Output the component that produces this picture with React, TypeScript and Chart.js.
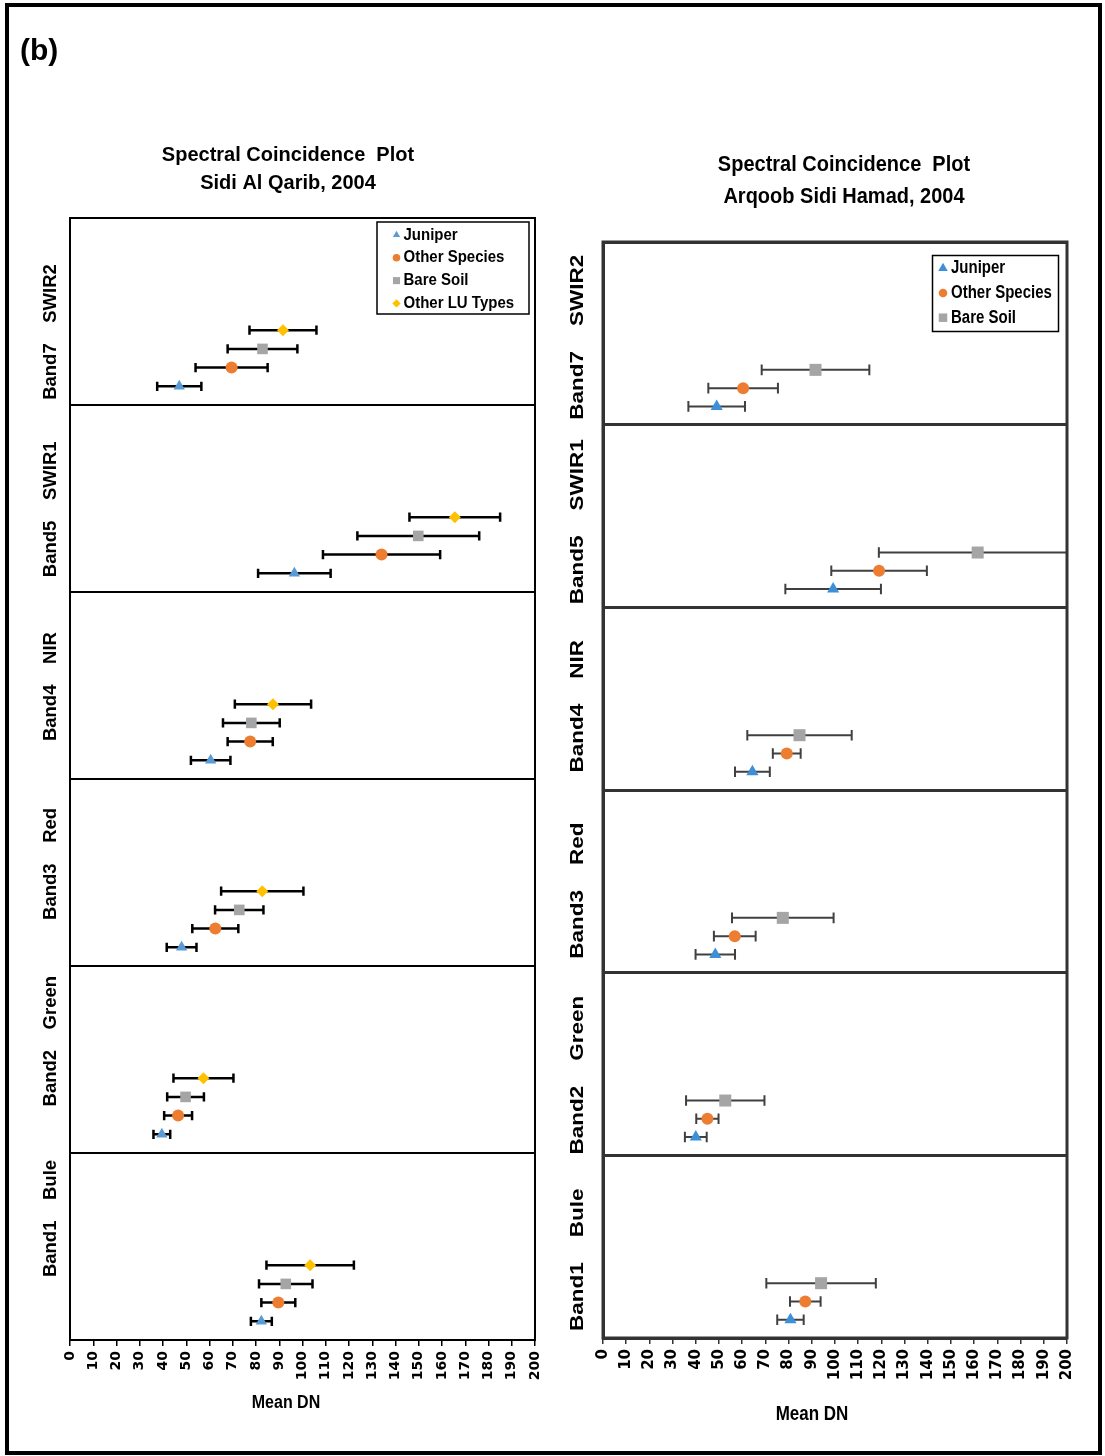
import { useEffect, useRef } from 'react';
import { Chart, registerables } from 'chart.js';
import { drawPoint } from 'chart.js/helpers';

Chart.register(...registerables);

// Bands on the y axis, listed bottom to top; each band owns 10 units of the axis
const bandNames = ['Band1', 'Band2', 'Band3', 'Band4', 'Band5', 'Band7'];
const bandRegions = ['Bule', 'Green', 'Red', 'NIR', 'SWIR1', 'SWIR2'];
const bandEdges = [0, 10, 20, 30, 40, 50, 60];

// Mean DN axis tick labels
const xTickValues = [0, 10, 20, 30, 40, 50, 60, 70, 80, 90, 100, 110, 120, 130, 140, 150, 160, 170, 180, 190, 200];

const seriesNames = ['Juniper', 'Other Species', 'Bare Soil', 'Other LU Types'];

// Sidi Al Qarib, 2004: mean DN and standard deviation per band (Band1..Band7)
const qaribJuniperMean = [82.3, 39.5, 48.0, 60.5, 96.5, 47.0];
const qaribJuniperSd = [4.5, 3.6, 6.4, 8.5, 15.6, 9.5];
const qaribOtherSpeciesMean = [89.6, 46.5, 62.5, 77.5, 134.0, 69.5];
const qaribOtherSpeciesSd = [7.3, 6.0, 9.9, 9.7, 25.2, 15.5];
const qaribBareSoilMean = [92.8, 49.7, 72.8, 78.0, 149.8, 82.8];
const qaribBareSoilSd = [11.5, 7.9, 10.4, 12.2, 26.2, 15.0];
const qaribOtherLuMean = [103.3, 57.4, 82.7, 87.3, 165.5, 91.6];
const qaribOtherLuSd = [18.8, 12.9, 17.7, 16.4, 19.5, 14.4];

// Arqoob Sidi Hamad, 2004: mean DN and standard deviation per band (Band1..Band7)
const hamadJuniperMean = [80.8, 40.0, 48.4, 64.4, 99.2, 49.0];
const hamadJuniperSd = [5.7, 4.7, 8.5, 7.5, 20.6, 12.2];
const hamadOtherSpeciesMean = [87.2, 45.0, 56.8, 79.2, 119.0, 60.4];
const hamadOtherSpeciesSd = [6.6, 4.8, 9.0, 6.0, 20.6, 15.0];
const hamadBareSoilMean = [94.0, 52.7, 77.5, 84.7, 161.5, 91.6];
const hamadBareSoilSd = [23.6, 16.9, 21.9, 22.5, 42.6, 23.2];

const FONT = '"Liberation Sans", Arial, Helvetica, sans-serif';

type Series = {
  name: string;
  means: number[];
  sds: number[];
  style: string;
  color: string;
  radius: number;
  legendRadius: number;
};

type Panel = {
  left: number;
  width: number;
  height: number;
  area: { left: number; right: number; top: number; bottom: number };
  series: Series[];
  titles: string[];
  titleX: number;
  titleY: number[];
  titleSize: number;
  titleSy: number;
  legend: { x: number; y: number; w: number; h: number; markerX: number; textX: number; firstY: number; step: number; size: number; sy: number; lineWidth: number };
  axisTitle: { x: number; y: number; size: number; sy: number };
  bandLabel: { x: number; size: number; stretch: number; shift: number; drift: number };
  tickSize: number;
  lineColor: string;
  frameWidth: number;
  gridWidth: number;
  barColor: string;
  barWidth: number;
  capHalf: number;
  tag?: string;
};

function drawText(
  ctx: CanvasRenderingContext2D,
  str: string,
  x: number,
  y: number,
  size: number,
  o: { align?: CanvasTextAlign; baseline?: CanvasTextBaseline; rotate?: number; sx?: number; sy?: number } = {}
) {
  ctx.save();
  ctx.translate(x, y);
  if (o.rotate) ctx.rotate(o.rotate);
  ctx.scale(o.sx ?? 1, o.sy ?? 1);
  ctx.font = `bold ${size}px ${FONT}`;
  ctx.textAlign = o.align ?? 'left';
  ctx.textBaseline = o.baseline ?? 'alphabetic';
  ctx.fillStyle = '#000';
  ctx.fillText(str, 0, 0);
  ctx.restore();
}

function buildDatasets(series: Series[]) {
  return series.map((s, k) => ({
    label: s.name,
    data: s.means.map((m, b) => ({ x: m, y: bandEdges[b] + k + 1, sd: s.sds[b] })),
    pointStyle: s.style,
    pointRadius: s.radius,
    pointHoverRadius: s.radius,
    pointBackgroundColor: s.color,
    pointBorderColor: s.color,
    pointBorderWidth: 0,
    showLine: false,
  }));
}

// Horizontal standard-deviation whiskers, drawn under the markers
function makeErrorBarPlugin(panel: Panel) {
  return {
    id: 'errorBars',
    beforeDatasetsDraw(chart: any) {
      const { ctx, chartArea } = chart;
      const xs = chart.scales.x;
      const ys = chart.scales.y;
      ctx.save();
      ctx.beginPath();
      ctx.rect(chartArea.left, chartArea.top, chartArea.right - chartArea.left, chartArea.bottom - chartArea.top);
      ctx.clip();
      ctx.strokeStyle = panel.barColor;
      ctx.lineWidth = panel.barWidth;
      chart.data.datasets.forEach((ds: any) => {
        ds.data.forEach((p: any) => {
          const y = ys.getPixelForValue(p.y);
          const x0 = xs.getPixelForValue(p.x - p.sd);
          const x1 = xs.getPixelForValue(p.x + p.sd);
          ctx.beginPath();
          ctx.moveTo(x0, y);
          ctx.lineTo(x1, y);
          ctx.moveTo(x0, y - panel.capHalf);
          ctx.lineTo(x0, y + panel.capHalf);
          ctx.moveTo(x1, y - panel.capHalf);
          ctx.lineTo(x1, y + panel.capHalf);
          ctx.stroke();
        });
      });
      ctx.restore();
    },
  };
}

// Titles, frame, band labels, legend box and axis title
function makeDecorPlugin(panel: Panel) {
  return {
    id: 'panelDecor',
    afterDraw(chart: any) {
      const { ctx, chartArea } = chart;
      const ys = chart.scales.y;
      ctx.save();

      if (panel.tag) drawText(ctx, panel.tag, 20, 60, 30);

      panel.titles.forEach((t, i) =>
        drawText(ctx, t, panel.titleX, panel.titleY[i], panel.titleSize, { align: 'center', sy: panel.titleSy })
      );

      // plot frame
      ctx.strokeStyle = panel.lineColor;
      ctx.lineWidth = panel.frameWidth;
      ctx.strokeRect(chartArea.left, chartArea.top, chartArea.right - chartArea.left, chartArea.bottom - chartArea.top);

      // band labels, read bottom to top
      const bl = panel.bandLabel;
      bandNames.forEach((name, b) => {
        const fromTop = bandNames.length - 1 - b;
        const cy = ys.getPixelForValue(bandEdges[b] + 5) + bl.shift + fromTop * bl.drift;
        drawText(ctx, `${name}    ${bandRegions[b]}`, bl.x, cy, bl.size, {
          align: 'center',
          baseline: 'middle',
          rotate: -Math.PI / 2,
          sx: bl.stretch,
        });
      });

      // legend
      const lg = panel.legend;
      ctx.fillStyle = '#fff';
      ctx.fillRect(lg.x, lg.y, lg.w, lg.h);
      ctx.strokeStyle = '#000';
      ctx.lineWidth = lg.lineWidth;
      ctx.strokeRect(lg.x, lg.y, lg.w, lg.h);
      panel.series.forEach((s, i) => {
        const y = lg.firstY + i * lg.step;
        ctx.fillStyle = s.color;
        drawPoint(ctx, { pointStyle: s.style as any, radius: s.legendRadius, rotation: 0, borderWidth: 0 } as any, lg.markerX, y);
        drawText(ctx, s.name, lg.textX, y, lg.size, { baseline: 'middle', sy: lg.sy });
      });

      const at = panel.axisTitle;
      drawText(ctx, 'Mean DN', at.x, at.y, at.size, { align: 'center', sy: at.sy });

      ctx.restore();
    },
  };
}

function makeConfig(panel: Panel): any {
  return {
    type: 'scatter',
    data: { datasets: buildDatasets(panel.series) },
    options: {
      animation: false,
      responsive: false,
      maintainAspectRatio: false,
      events: [],
      layout: {
        padding: {
          left: panel.area.left,
          right: panel.width - panel.area.right,
          top: panel.area.top,
          bottom: 0,
        },
      },
      plugins: {
        legend: { display: false },
        title: { display: false },
        tooltip: { enabled: false },
      },
      scales: {
        x: {
          type: 'linear',
          min: 0,
          max: 200,
          afterBuildTicks: (s: any) => {
            s.ticks = xTickValues.map((v) => ({ value: v }));
          },
          afterFit: (s: any) => {
            s.height = panel.height - panel.area.bottom;
          },
          ticks: {
            autoSkip: false,
            minRotation: 90,
            maxRotation: 90,
            padding: 5,
            color: '#000',
            font: { family: '"DejaVu Sans", sans-serif', weight: 'bold', size: panel.tickSize },
            callback: (v: number) => String(v),
          },
          grid: {
            drawOnChartArea: false,
            drawTicks: true,
            tickLength: 6,
            color: panel.lineColor,
            lineWidth: 1.5,
          },
          border: { display: true, color: panel.lineColor, width: panel.frameWidth },
        },
        y: {
          type: 'linear',
          min: 0,
          max: 60,
          afterBuildTicks: (s: any) => {
            s.ticks = bandEdges.map((v) => ({ value: v }));
          },
          afterFit: (s: any) => {
            s.width = 0;
          },
          ticks: { display: false },
          grid: { drawTicks: false, color: panel.lineColor, lineWidth: panel.gridWidth },
          border: { display: true, color: panel.lineColor, width: panel.frameWidth },
        },
      },
    },
    plugins: [makeErrorBarPlugin(panel), makeDecorPlugin(panel)],
  };
}

const qaribPanel: Panel = {
  left: 0,
  width: 560,
  height: 1456,
  area: { left: 70, right: 535, top: 218, bottom: 1340 },
  series: [
    { name: seriesNames[0], means: qaribJuniperMean, sds: qaribJuniperSd, style: 'triangle', color: '#5B9BD5', radius: 6.5, legendRadius: 4.2 },
    { name: seriesNames[1], means: qaribOtherSpeciesMean, sds: qaribOtherSpeciesSd, style: 'circle', color: '#ED7D31', radius: 6, legendRadius: 3.8 },
    { name: seriesNames[2], means: qaribBareSoilMean, sds: qaribBareSoilSd, style: 'rect', color: '#A5A5A5', radius: 7.5, legendRadius: 5 },
    { name: seriesNames[3], means: qaribOtherLuMean, sds: qaribOtherLuSd, style: 'rectRot', color: '#FFC000', radius: 6, legendRadius: 4.2 },
  ],
  titles: ['Spectral Coincidence  Plot', 'Sidi Al Qarib, 2004'],
  titleX: 288,
  titleY: [161, 189],
  titleSize: 20,
  titleSy: 1,
  legend: { x: 377, y: 222, w: 152, h: 92, markerX: 396.5, textX: 403.5, firstY: 235, step: 22.8, size: 15, sy: 1.1, lineWidth: 1.5 },
  axisTitle: { x: 286, y: 1408, size: 16, sy: 1.1 },
  bandLabel: { x: 51, size: 18.5, stretch: 1, shift: 20.5, drift: -9.7 },
  tickSize: 14,
  lineColor: '#000',
  frameWidth: 2,
  gridWidth: 2,
  barColor: '#000',
  barWidth: 2.5,
  capHalf: 4.6,
  tag: '(b)',
};

const hamadPanel: Panel = {
  left: 560,
  width: 545,
  height: 1456,
  area: { left: 43, right: 507, top: 242, bottom: 1338 },
  series: [
    { name: seriesNames[0], means: hamadJuniperMean, sds: hamadJuniperSd, style: 'triangle', color: '#3D8FD8', radius: 7, legendRadius: 5.5 },
    { name: seriesNames[1], means: hamadOtherSpeciesMean, sds: hamadOtherSpeciesSd, style: 'circle', color: '#ED7D31', radius: 6, legendRadius: 4.3 },
    { name: seriesNames[2], means: hamadBareSoilMean, sds: hamadBareSoilSd, style: 'rect', color: '#A5A5A5', radius: 8.5, legendRadius: 6 },
  ],
  titles: ['Spectral Coincidence  Plot', 'Arqoob Sidi Hamad, 2004'],
  titleX: 284,
  titleY: [171, 203],
  titleSize: 20,
  titleSy: 1.12,
  legend: { x: 372.5, y: 255.5, w: 126, h: 76, markerX: 383, textX: 391, firstY: 268.3, step: 24.7, size: 15, sy: 1.2, lineWidth: 1.5 },
  axisTitle: { x: 252, y: 1420, size: 17, sy: 1.2 },
  bandLabel: { x: 18, size: 18, stretch: 1.25, shift: 4, drift: 1.8 },
  tickSize: 15,
  lineColor: '#333',
  frameWidth: 3,
  gridWidth: 3,
  barColor: '#404040',
  barWidth: 2,
  capHalf: 5.3,
};

function PanelCanvas({ panel }: { panel: Panel }) {
  const ref = useRef<HTMLCanvasElement | null>(null);
  useEffect(() => {
    if (!ref.current) return;
    const chart = new Chart(ref.current, makeConfig(panel));
    return () => chart.destroy();
  }, [panel]);
  return (
    <canvas
      ref={ref}
      width={panel.width}
      height={panel.height}
      style={{ position: 'absolute', left: panel.left, top: 0, width: panel.width, height: panel.height }}
    />
  );
}

export default function App() {
  return (
    <div style={{ position: 'absolute', left: 0, top: 0, width: 1105, height: 1456, background: '#fff', overflow: 'hidden' }}>
      <PanelCanvas panel={qaribPanel} />
      <PanelCanvas panel={hamadPanel} />
      <div
        style={{
          position: 'absolute',
          left: 5,
          top: 3,
          width: 1097,
          height: 1452,
          border: '4px solid #000',
          boxSizing: 'border-box',
          pointerEvents: 'none',
        }}
      />
    </div>
  );
}
